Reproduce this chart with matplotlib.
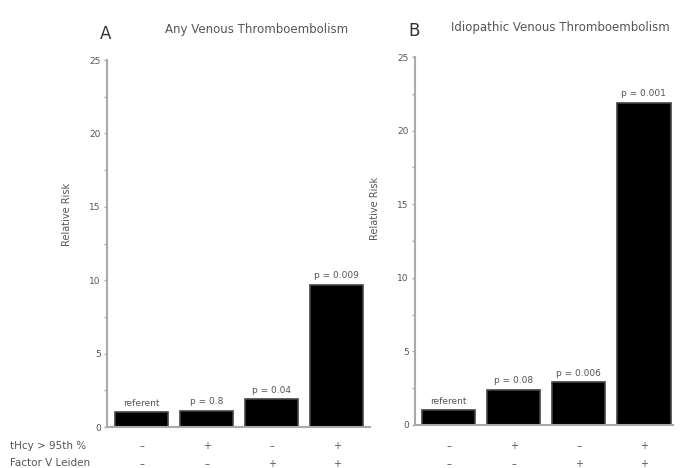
import matplotlib.pyplot as plt
import matplotlib.transforms as mtransforms
import numpy as np

groups = ["1", "2", "3", "4"]
any_vte = [1.0, 1.12, 1.88, 9.7]
any_labels = ["referent", "p = 0.8", "p = 0.04", "p = 0.009"]
idio_vte = [1.0, 2.4, 2.9, 21.9]
idio_labels = ["referent", "p = 0.08", "p = 0.006", "p = 0.001"]
thcy_signs = ["\u2013", "+", "\u2013", "+"]
fvl_signs = ["\u2013", "\u2013", "+", "+"]
row_names = ["tHcy > 95th %", "Factor V Leiden"]

txt_col = "#555555"
spine_col = "#aaaaaa"

fig = plt.figure(figsize=(6.83, 4.68), dpi=100)
ax_a = fig.add_axes([0.1567, 0.0876, 0.385, 0.784])
ax_b = fig.add_axes([0.6076, 0.0919, 0.378, 0.786])

x = np.arange(len(groups))
for ax, vals, labs, xlim, lab_xy in [(ax_a, any_vte, any_labels, (-0.53, 3.51), (-0.133, 0.58)),
                                     (ax_b, idio_vte, idio_labels, (-0.515, 3.45), (-0.136, 0.59))]:
    ax.bar(x, vals, width=0.82, color="black", edgecolor="#444444", linewidth=1.2)
    for xi, v, lab in zip(x, vals, labs):
        ax.text(xi, v + 0.3, lab, ha="center", va="bottom", fontsize=6.5, color=txt_col)
    ax.set_xlim(*xlim)
    ax.set_ylim(0, 25)
    ax.set_yticks([0, 5, 10, 15, 20, 25])
    ax.set_yticks(np.arange(0, 25, 2.5), minor=True)
    ax.tick_params(axis="y", which="both", length=2.5, width=1, color=spine_col,
                   labelsize=6.5, labelcolor=txt_col, pad=2)
    ax.tick_params(axis="x", length=0, labelbottom=False)
    for s in ["top", "right"]:
        ax.spines[s].set_visible(False)
    for s in ["left", "bottom"]:
        ax.spines[s].set_color(spine_col)
        ax.spines[s].set_linewidth(1.5)
    ax.set_ylabel("Relative Risk", fontsize=7, color=txt_col)
    ax.yaxis.set_label_coords(*lab_xy)

    tr = mtransforms.blended_transform_factory(ax.transData, fig.transFigure)
    for xi, s1, s2 in zip(x, thcy_signs, fvl_signs):
        ax.text(xi, 1 - 446 / 468, s1, transform=tr, ha="center", va="center",
                fontsize=7, color=txt_col)
        ax.text(xi, 1 - 464 / 468, s2, transform=tr, ha="center", va="center",
                fontsize=7, color=txt_col)

fig.text(10 / 683, 1 - 446 / 468, row_names[0], fontsize=7.5, color=txt_col, va="center")
fig.text(10 / 683, 1 - 463 / 468, row_names[1], fontsize=7.5, color=txt_col, va="center")

fig.text(100 / 683, 1 - 34 / 468, "A", fontsize=12, color="#333333", va="center")
fig.text(165 / 683, 1 - 30 / 468, "Any Venous Thromboembolism", fontsize=8.5,
         color=txt_col, va="center")
fig.text(408 / 683, 1 - 31 / 468, "B", fontsize=12, color="#333333", va="center")
fig.text(451 / 683, 1 - 27 / 468, "Idiopathic Venous Thromboembolism", fontsize=8.5,
         color=txt_col, va="center")

fig.savefig("out.png", dpi=100)
